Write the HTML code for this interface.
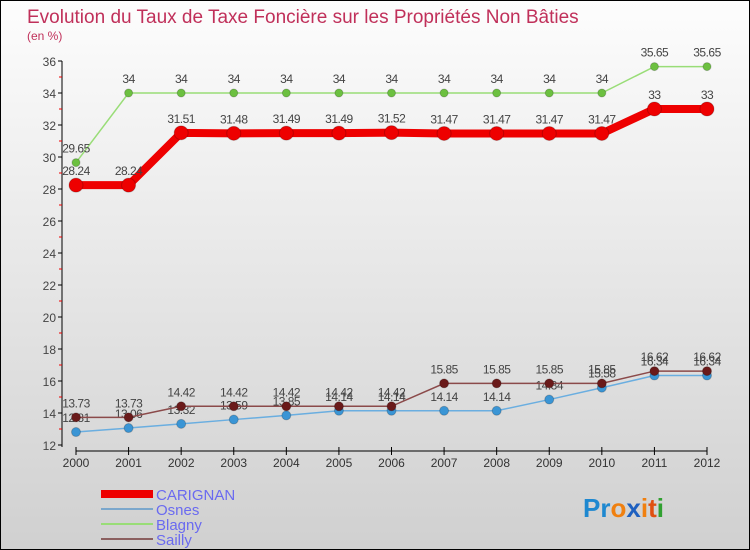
<!DOCTYPE html>
<html><head><meta charset="utf-8"><style>
body{margin:0}
#c{width:748px;height:548px;border:1px solid #000;background:linear-gradient(#fdfdfd,#d0d0d0);position:relative;overflow:hidden;font-family:"Liberation Sans",sans-serif}
</style></head><body>
<div id="c">
<svg id="s" width="748" height="548" xmlns="http://www.w3.org/2000/svg">
<text x="26" y="22" font-size="19" fill="#c0305a">Evolution du Taux de Taxe Foncière sur les Propriétés Non Bâties</text>
<text x="26" y="39" font-size="12" fill="#c0305a">(en %)</text>
<g id="axes"></g><g id="series"></g>
<g>
<rect x="100" y="489" width="52" height="8" fill="#e00"/>
<text x="155" y="499" font-size="15" fill="#6a6af0">CARIGNAN</text>
<rect x="100" y="507" width="52" height="2" fill="#7ba7cc"/>
<text x="155" y="514" font-size="15" fill="#6a6af0">Osnes</text>
<rect x="100" y="522" width="52" height="2" fill="#99dd77"/>
<text x="155" y="529" font-size="15" fill="#6a6af0">Blagny</text>
<rect x="100" y="537" width="52" height="2" fill="#8b6060"/>
<text x="155" y="544" font-size="15" fill="#6a6af0">Sailly</text>
</g>
<g font-size="26" font-weight="bold">
<text x="582" y="516"><tspan fill="#1e88d0">Pr</tspan><tspan fill="#f08010">o</tspan><tspan fill="#1e60c0">x</tspan><tspan fill="#f08010">i</tspan><tspan fill="#e05010">t</tspan><tspan fill="#30a030">i</tspan></text>
</g>
</svg>
</div>
<script>
const years=[2000,2001,2002,2003,2004,2005,2006,2007,2008,2009,2010,2011,2012];
const yTicks=[12,14,16,18,20,22,24,26,28,30,32,34,36];
const carignan=[28.24,28.24,31.51,31.48,31.49,31.49,31.52,31.47,31.47,31.47,31.47,33,33];
const osnes=[12.81,13.06,13.32,13.59,13.85,14.14,14.14,14.14,14.14,14.84,15.58,16.34,16.34];
const blagny=[29.65,34,34,34,34,34,34,34,34,34,34,35.65,35.65];
const sailly=[13.73,13.73,14.42,14.42,14.42,14.42,14.42,15.85,15.85,15.85,15.85,16.62,16.62];
const NS="http://www.w3.org/2000/svg";
const xs=i=>75+i*(706-75)/12;
const ys=v=>60+(36-v)*16.0;
function mk(t,a,p){const e=document.createElementNS(NS,t);for(const k in a)e.setAttribute(k,a[k]);p.appendChild(e);return e;}
const ax=document.getElementById('axes');
let l=mk('line',{x1:61,y1:60,x2:61,y2:446,stroke:'#000'},ax);

yTicks.forEach(v=>{
 mk('line',{x1:57,x2:61,y1:ys(v),y2:ys(v),stroke:'#000'},ax);
 if(v<36)mk('line',{x1:58,x2:61,y1:ys(v+1),y2:ys(v+1),stroke:'#e00'},ax);
 const t=mk('text',{x:55,y:ys(v)+5,'font-size':12,fill:'#444','text-anchor':'end'},ax);t.textContent=v;
 
 
});
l=mk('line',{x1:75,y1:450,x2:706,y2:450,stroke:'#000'},ax);

years.forEach((y,i)=>{
 mk('line',{x1:xs(i),x2:xs(i),y1:446,y2:454,stroke:'#000'},ax);
 const t=mk('text',{x:xs(i),y:466,'font-size':12,fill:'#333','text-anchor':'middle'},ax);t.textContent=y;
 
 
});
const sg=document.getElementById('series');
function draw(name,vals,color,w,r,dot){
 const g=mk('g',{},sg);
 
 
 mk('polyline',{points:vals.map((v,i)=>xs(i)+','+ys(v)).join(' '),fill:'none',stroke:color,'stroke-width':w},g);
 vals.forEach((v,i)=>{
  const c=mk('circle',{cx:xs(i),cy:ys(v),r:r,fill:dot,stroke:'rgba(0,0,0,0.2)'},g);
  
  
  const t=mk('text',{x:xs(i),y:ys(v)-10,'font-size':12,fill:'#444','text-anchor':'middle','letter-spacing':'-0.5'},g);
  t.textContent=String(v);
 });
}
draw('blagny',blagny,'#99dd77',1.5,4,'#6cc040');
draw('osnes',osnes,'#6aaee0',1.5,4.5,'#3a95d5');
draw('sailly',sailly,'#8b4a4a',1.5,4.5,'#6a1a1a');
draw('carignan',carignan,'#ee0000',8,7,'#ee0000');
</script>
</body></html>
